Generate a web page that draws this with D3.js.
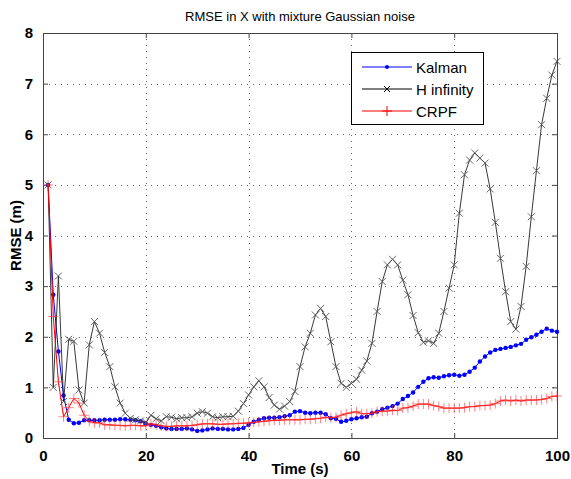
<!DOCTYPE html>
<html>
<head>
<meta charset="utf-8">
<script src="https://cdn.jsdelivr.net/npm/d3@7"></script>
<style>
  html, body { margin: 0; padding: 0; background: #fff; }
  svg { display: block; font-family: "Liberation Sans", Arial, sans-serif; }
</style>
</head>
<body>
<svg id="chart" width="571" height="479"></svg>
<script>
// time axis: 1..100 s
const times = d3.range(1, 101);

const kalman = [
  5.0, 2.83, 1.71, 0.84, 0.36, 0.29, 0.30, 0.35, 0.35, 0.35,
  0.35, 0.36, 0.36, 0.36, 0.37, 0.37, 0.36, 0.35, 0.33, 0.29,
  0.26, 0.24, 0.21, 0.19, 0.18, 0.18, 0.18, 0.19, 0.17, 0.14,
  0.15, 0.17, 0.19, 0.18, 0.18, 0.17, 0.17, 0.18, 0.20, 0.26,
  0.32, 0.36, 0.39, 0.40, 0.40, 0.41, 0.43, 0.45, 0.52, 0.53,
  0.50, 0.49, 0.50, 0.50, 0.47, 0.39, 0.38, 0.32, 0.34, 0.37,
  0.39, 0.41, 0.42, 0.49, 0.52, 0.57, 0.60, 0.63, 0.68, 0.77,
  0.83, 0.90, 1.01, 1.11, 1.18, 1.20, 1.19, 1.22, 1.24, 1.25,
  1.23, 1.25, 1.31, 1.39, 1.51, 1.61, 1.69, 1.74, 1.76, 1.78,
  1.80, 1.83, 1.86, 1.94, 1.99, 2.04, 2.10, 2.16, 2.12, 2.10
];

const hInfinity = [
  5.0, 1.00, 3.20, 0.72, 1.95, 1.91, 0.95, 0.69, 1.84, 2.30,
  2.07, 1.69, 1.41, 1.01, 0.69, 0.49, 0.39, 0.36, 0.34, 0.31,
  0.45, 0.38, 0.34, 0.42, 0.41, 0.38, 0.40, 0.40, 0.42, 0.49,
  0.52, 0.49, 0.42, 0.40, 0.42, 0.42, 0.43, 0.53, 0.68, 0.85,
  1.01, 1.13, 1.01, 0.80, 0.65, 0.57, 0.63, 0.72, 0.92, 1.41,
  1.80, 2.07, 2.43, 2.56, 2.40, 1.90, 1.41, 1.08, 1.00, 1.08,
  1.16, 1.34, 1.52, 1.87, 2.50, 3.09, 3.42, 3.53, 3.42, 3.12,
  2.83, 2.42, 2.08, 1.89, 1.92, 1.87, 2.07, 2.50, 2.96, 3.42,
  4.44, 5.20, 5.49, 5.63, 5.53, 5.43, 4.92, 4.26, 3.55, 2.89,
  2.30, 2.15, 2.60, 3.39, 4.37, 5.28, 6.19, 6.71, 7.17, 7.44
];

const crpf = [
  5.0, 2.40, 1.11, 0.42, 0.60, 0.78, 0.69, 0.45, 0.33, 0.30,
  0.30, 0.26, 0.26, 0.25, 0.25, 0.24, 0.25, 0.25, 0.24, 0.24,
  0.28, 0.26, 0.24, 0.23, 0.23, 0.24, 0.24, 0.24, 0.25, 0.26,
  0.28, 0.28, 0.28, 0.27, 0.27, 0.28, 0.28, 0.29, 0.29, 0.30,
  0.31, 0.32, 0.33, 0.34, 0.35, 0.35, 0.36, 0.36, 0.36, 0.36,
  0.37, 0.37, 0.38, 0.39, 0.41, 0.40, 0.41, 0.45, 0.48, 0.50,
  0.52, 0.48, 0.48, 0.49, 0.52, 0.53, 0.53, 0.55, 0.54, 0.59,
  0.60, 0.63, 0.67, 0.67, 0.67, 0.64, 0.62, 0.59, 0.59, 0.59,
  0.59, 0.60, 0.62, 0.62, 0.64, 0.64, 0.65, 0.68, 0.73, 0.75,
  0.73, 0.75, 0.73, 0.75, 0.75, 0.75, 0.76, 0.78, 0.82, 0.83
];

const xTicks = [0, 20, 40, 60, 80, 100];
const yTicks = [0, 1, 2, 3, 4, 5, 6, 7, 8];
const seriesNames = ["Kalman", "H infinity", "CRPF"];

const svg = d3.select("#chart");
const plotLeft = 43, plotRight = 557, plotTop = 33, plotBottom = 438;

const x = d3.scaleLinear().domain([0, 100]).range([plotLeft, plotRight]);
const y = d3.scaleLinear().domain([0, 8]).range([plotBottom, plotTop]);

// grid
const grid = svg.append("g")
  .attr("stroke", "#666")
  .attr("stroke-width", 1)
  .attr("stroke-dasharray", "1,5");
grid.selectAll("line.gx")
  .data(xTicks.slice(1, -1))
  .enter().append("line")
  .attr("x1", d => Math.round(x(d)) + 0.5).attr("x2", d => Math.round(x(d)) + 0.5)
  .attr("y1", plotTop).attr("y2", plotBottom);
grid.selectAll("line.gy")
  .data(yTicks.slice(1, -1))
  .enter().append("line")
  .attr("y1", d => Math.round(y(d)) + 0.5).attr("y2", d => Math.round(y(d)) + 0.5)
  .attr("x1", plotLeft).attr("x2", plotRight);

// axes (ticks inward, mirrored on top/right)
const tickLen = 5;
const axisStyle = g => {
  g.select(".domain").remove();
  g.selectAll(".tick line").attr("stroke", "#444");
  g.selectAll(".tick text")
    .attr("fill", "#000")
    .attr("font-size", 15)
    .attr("font-weight", "bold")
    .attr("font-family", "'Liberation Sans', Arial, sans-serif");
};

svg.append("g")
  .attr("transform", `translate(0,${plotBottom})`)
  .call(d3.axisBottom(x).tickValues(xTicks).tickSizeInner(-tickLen).tickSizeOuter(0).tickPadding(12))
  .call(axisStyle);
svg.append("g")
  .attr("transform", `translate(0,${plotTop})`)
  .call(d3.axisTop(x).tickValues(xTicks).tickSizeInner(-tickLen).tickSizeOuter(0).tickFormat(""))
  .call(axisStyle);
svg.append("g")
  .attr("transform", `translate(${plotLeft},0)`)
  .call(d3.axisLeft(y).tickValues(yTicks).tickSizeInner(-tickLen).tickSizeOuter(0).tickPadding(10))
  .call(axisStyle);
svg.append("g")
  .attr("transform", `translate(${plotRight},0)`)
  .call(d3.axisRight(y).tickValues(yTicks).tickSizeInner(-tickLen).tickSizeOuter(0).tickFormat(""))
  .call(axisStyle);

// box
svg.append("rect")
  .attr("x", plotLeft + 0.5).attr("y", plotTop + 0.5)
  .attr("width", plotRight - plotLeft).attr("height", plotBottom - plotTop)
  .attr("fill", "none").attr("stroke", "#444").attr("stroke-width", 1);

const line = d3.line().x((d, i) => x(times[i])).y(d => y(d));

// Kalman
const gK = svg.append("g");
gK.append("path").datum(kalman)
  .attr("d", line).attr("fill", "none").attr("stroke", "#0000ff").attr("stroke-width", 1);
gK.selectAll("circle").data(kalman).enter().append("circle")
  .attr("cx", (d, i) => x(times[i])).attr("cy", d => y(d))
  .attr("r", 2.2).attr("fill", "#0000ff");

// H infinity
const gH = svg.append("g");
gH.append("path").datum(hInfinity)
  .attr("d", line).attr("fill", "none").attr("stroke", "#222").attr("stroke-width", 0.9);
const xm = 3.5;
gH.selectAll("path.m").data(hInfinity).enter().append("path")
  .attr("class", "m")
  .attr("d", (d, i) => {
    const cx = x(times[i]), cy = y(d);
    return `M${cx - xm},${cy - xm}L${cx + xm},${cy + xm}M${cx - xm},${cy + xm}L${cx + xm},${cy - xm}`;
  })
  .attr("stroke", "#555").attr("stroke-width", 0.9).attr("fill", "none");

// CRPF
const gC = svg.append("g");
gC.append("path").datum(crpf)
  .attr("d", line).attr("fill", "none").attr("stroke", "#ff0000").attr("stroke-width", 1);
const pm = 5;
gC.selectAll("path.m").data(crpf).enter().append("path")
  .attr("class", "m")
  .attr("d", (d, i) => {
    const cx = x(times[i]), cy = y(d);
    return `M${cx - pm},${cy}L${cx + pm},${cy}M${cx},${cy - pm}L${cx},${cy + pm}`;
  })
  .attr("stroke", "#ff3030").attr("stroke-opacity", 0.6).attr("stroke-width", 1).attr("fill", "none");

// title and labels
svg.append("text")
  .attr("x", (plotLeft + plotRight) / 2).attr("y", 21)
  .attr("text-anchor", "middle").attr("font-size", 13)
  .text("RMSE in X with mixture Gaussian noise");
svg.append("text")
  .attr("x", (plotLeft + plotRight) / 2).attr("y", 474)
  .attr("text-anchor", "middle").attr("font-size", 15).attr("font-weight", "bold")
  .text("Time (s)");
svg.append("text")
  .attr("transform", `translate(21,${(plotTop + plotBottom) / 2}) rotate(-90)`)
  .attr("text-anchor", "middle").attr("font-size", 15).attr("font-weight", "bold")
  .text("RMSE (m)");

// legend
const lg = svg.append("g");
lg.append("rect")
  .attr("x", 351.5).attr("y", 52.5).attr("width", 132).attr("height", 72)
  .attr("fill", "#fff").attr("stroke", "#000").attr("stroke-width", 1);
const rowY = [67, 89, 111];
const colors = ["#0000ff", "#000", "#ff0000"];
seriesNames.forEach((name, i) => {
  const ly = rowY[i];
  lg.append("line").attr("x1", 362).attr("x2", 412).attr("y1", ly).attr("y2", ly)
    .attr("stroke", colors[i]).attr("stroke-width", 1.2);
  const mx = 387;
  if (i === 0) {
    lg.append("circle").attr("cx", mx).attr("cy", ly).attr("r", 2).attr("fill", colors[i]);
  } else if (i === 1) {
    lg.append("path")
      .attr("d", `M${mx - 3},${ly - 3}L${mx + 3},${ly + 3}M${mx - 3},${ly + 3}L${mx + 3},${ly - 3}`)
      .attr("stroke", "#000").attr("stroke-width", 1);
  } else {
    lg.append("path")
      .attr("d", `M${mx - 5},${ly}L${mx + 5},${ly}M${mx},${ly - 5}L${mx},${ly + 5}`)
      .attr("stroke", colors[i]).attr("stroke-width", 1);
  }
  lg.append("text").attr("x", 416).attr("y", ly + 5.5)
    .attr("font-size", 15).text(name);
});
</script>
</body>
</html>
